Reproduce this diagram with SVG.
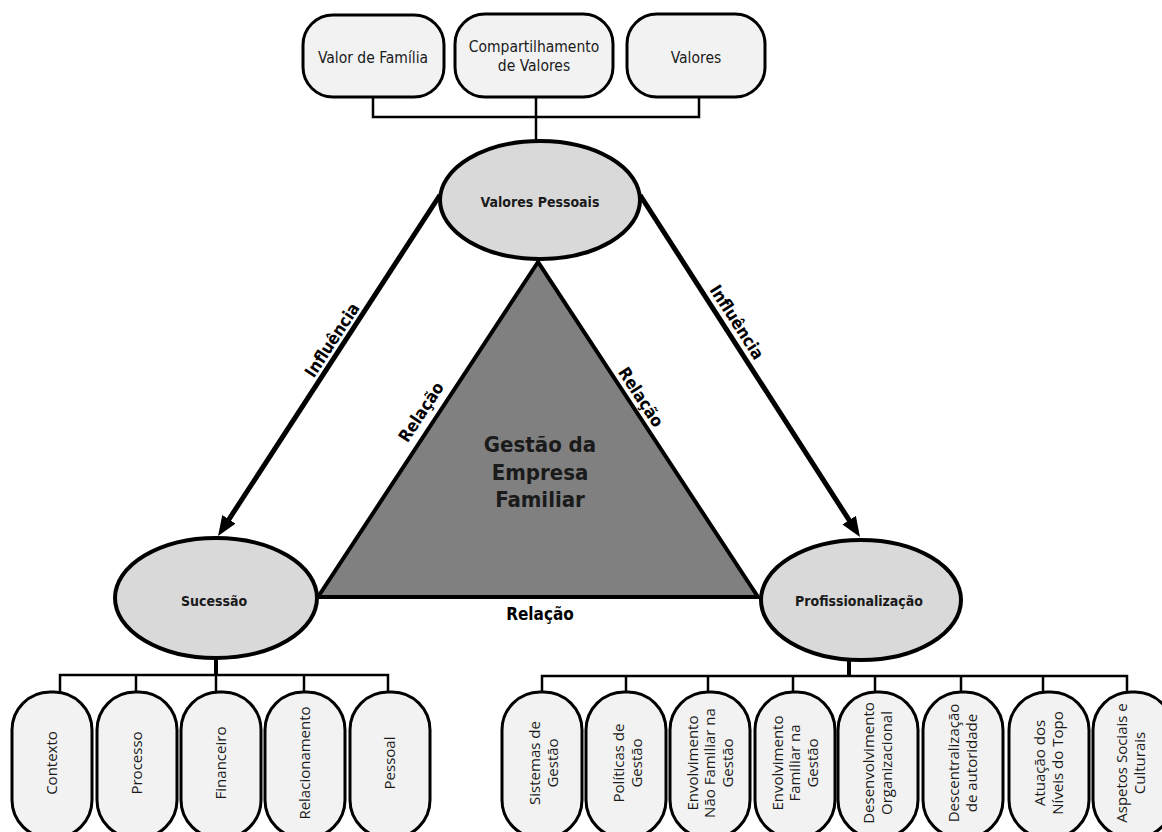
<svg xmlns="http://www.w3.org/2000/svg" width="1162" height="832" viewBox="0 0 1162 832">
  <style>
    .pill { fill: #f2f2f2; stroke: #000; stroke-width: 3; }
    .oval { fill: #d9d9d9; stroke: #000; stroke-width: 4; }
    .thin { fill: none; stroke: #000; stroke-width: 2.5; }
    .stem { fill: none; stroke: #000; stroke-width: 4; }
    .arrow { fill: none; stroke: #000; stroke-width: 5; }
    .top-txt { font-family: "DejaVu Sans Condensed", "DejaVu Sans", sans-serif; font-size: 15.5px; fill: #1a1a1a; text-anchor: middle; }
    .oval-txt { font-family: "DejaVu Sans Condensed", "DejaVu Sans", sans-serif; font-size: 14px; font-weight: bold; fill: #1a1a1a; text-anchor: middle; }
    .edge-txt { font-family: "DejaVu Sans Condensed", "DejaVu Sans", sans-serif; font-size: 17px; font-weight: bold; fill: #000; text-anchor: middle; }
    .core-txt { font-family: "DejaVu Sans Condensed", "DejaVu Sans", sans-serif; font-size: 22px; font-weight: bold; fill: #1a1a1a; text-anchor: middle; }
    .leaf-txt { font-family: "Open Sans", "Noto Sans", sans-serif; font-size: 15px; fill: #1a1a1a; text-anchor: middle; }
  </style>
  <defs>
    <marker id="head" markerUnits="userSpaceOnUse" markerWidth="22" markerHeight="18" refX="6" refY="8" orient="auto">
      <path d="M0,0 L20,8 L0,16 z" fill="#000"/>
    </marker>
  </defs>

  <!-- central triangle -->
  <g id="gestao">
    <polygon points="538,262 318,597 758,597" fill="#808080" stroke="#000" stroke-width="4" stroke-linejoin="miter"/>
    <text class="core-txt" x="540" y="452">Gestão da</text>
    <text class="core-txt" x="540" y="480">Empresa</text>
    <text class="core-txt" x="540" y="507">Familiar</text>
  </g>

  <!-- connectors -->
  <g id="connectors">
    <!-- top values tree -->
    <polyline class="thin" points="373,97 373,117 699,117 699,97"/>
    <line class="thin" x1="536" y1="97" x2="536" y2="141"/>
    <!-- influence arrows -->
    <line class="arrow" x1="440" y1="195" x2="225.7" y2="524.3" marker-end="url(#head)"/>
    <line class="arrow" x1="640" y1="195" x2="852.4" y2="525.2" marker-end="url(#head)"/>
    <!-- succession tree -->
    <line class="stem" x1="216" y1="657" x2="216" y2="676"/>
    <polyline class="thin" points="60,692 60,675 388,675 388,692"/>
    <line class="thin" x1="136" y1="675" x2="136" y2="692"/>
    <line class="thin" x1="216" y1="675" x2="216" y2="692"/>
    <line class="thin" x1="304" y1="675" x2="304" y2="692"/>
    <!-- professionalisation tree -->
    <line class="stem" x1="849" y1="659" x2="849" y2="677"/>
    <polyline class="thin" points="542,692 542,676 1127,676 1127,692"/>
    <line class="thin" x1="626" y1="676" x2="626" y2="692"/>
    <line class="thin" x1="708" y1="676" x2="708" y2="692"/>
    <line class="thin" x1="793" y1="676" x2="793" y2="692"/>
    <line class="thin" x1="875" y1="676" x2="875" y2="692"/>
    <line class="thin" x1="961" y1="676" x2="961" y2="692"/>
    <line class="thin" x1="1043" y1="676" x2="1043" y2="692"/>
    <!-- edge labels -->
    <text class="edge-txt" transform="translate(332,340) rotate(-56.8)" y="6">Influência</text>
    <text class="edge-txt" transform="translate(737,322) rotate(57.2)" y="6">Influência</text>
    <text class="edge-txt" transform="translate(421,412) rotate(-56.7)" y="6">Relação</text>
    <text class="edge-txt" transform="translate(641,397) rotate(56.7)" y="6">Relação</text>
    <text class="edge-txt" x="540" y="620">Relação</text>
  </g>

  <!-- top value boxes -->
  <g id="valor-familia">
    <rect class="pill" x="303" y="15" width="141" height="82" rx="30"/>
    <text class="top-txt" x="373" y="63">Valor de Família</text>
  </g>
  <g id="compartilhamento">
    <rect class="pill" x="455" y="14" width="158" height="83" rx="30"/>
    <text class="top-txt" x="534" y="52">Compartilhamento</text>
    <text class="top-txt" x="534" y="71">de Valores</text>
  </g>
  <g id="valores">
    <rect class="pill" x="627" y="14" width="138" height="83" rx="30"/>
    <text class="top-txt" x="696" y="63">Valores</text>
  </g>

  <!-- main ellipses -->
  <g id="valores-pessoais">
    <ellipse class="oval" cx="540" cy="200" rx="100" ry="59"/>
    <text class="oval-txt" x="540" y="207">Valores Pessoais</text>
  </g>
  <g id="sucessao">
    <ellipse class="oval" cx="216" cy="598" rx="101" ry="60"/>
    <text class="oval-txt" x="214" y="606">Sucessão</text>
  </g>
  <g id="profissionalizacao">
    <ellipse class="oval" cx="861" cy="600" rx="100" ry="60"/>
    <text class="oval-txt" x="859" y="606">Profissionalização</text>
  </g>

  <!-- succession leaves -->
  <g id="contexto">
    <rect class="pill" x="12" y="692" width="80" height="146" rx="38"/>
    <text class="leaf-txt" transform="translate(52,763) rotate(-90)" y="5">Contexto</text>
  </g>
  <g id="processo">
    <rect class="pill" x="97" y="692" width="80" height="146" rx="38"/>
    <text class="leaf-txt" transform="translate(137,763) rotate(-90)" y="5">Processo</text>
  </g>
  <g id="financeiro">
    <rect class="pill" x="181" y="692" width="80" height="146" rx="38"/>
    <text class="leaf-txt" transform="translate(221,763) rotate(-90)" y="5">Financeiro</text>
  </g>
  <g id="relacionamento">
    <rect class="pill" x="265" y="692" width="80" height="146" rx="38"/>
    <text class="leaf-txt" transform="translate(305,763) rotate(-90)" y="5">Relacionamento</text>
  </g>
  <g id="pessoal">
    <rect class="pill" x="350" y="692" width="80" height="146" rx="38"/>
    <text class="leaf-txt" transform="translate(390,763) rotate(-90)" y="5">Pessoal</text>
  </g>

  <!-- professionalisation leaves -->
  <g id="sistemas">
    <rect class="pill" x="502" y="692" width="80" height="146" rx="38"/>
    <text class="leaf-txt" transform="translate(544,763) rotate(-90)"><tspan x="0" y="-4">Sistemas de</tspan><tspan x="0" y="14">Gestão</tspan></text>
  </g>
  <g id="politicas">
    <rect class="pill" x="586" y="692" width="80" height="146" rx="38"/>
    <text class="leaf-txt" transform="translate(628,763) rotate(-90)"><tspan x="0" y="-4">Políticas de</tspan><tspan x="0" y="14">Gestão</tspan></text>
  </g>
  <g id="envolvimento-nao-familiar">
    <rect class="pill" x="670" y="692" width="80" height="146" rx="38"/>
    <text class="leaf-txt" transform="translate(710,763) rotate(-90)"><tspan x="0" y="-12.5">Envolvimento</tspan><tspan x="0" y="5">Não Familiar na</tspan><tspan x="0" y="22.5">Gestão</tspan></text>
  </g>
  <g id="envolvimento-familiar">
    <rect class="pill" x="755" y="692" width="80" height="146" rx="38"/>
    <text class="leaf-txt" transform="translate(795,763) rotate(-90)"><tspan x="0" y="-12.5">Envolvimento</tspan><tspan x="0" y="5">Familiar na</tspan><tspan x="0" y="22.5">Gestão</tspan></text>
  </g>
  <g id="desenvolvimento">
    <rect class="pill" x="838" y="692" width="80" height="146" rx="38"/>
    <text class="leaf-txt" transform="translate(878,763) rotate(-90)"><tspan x="0" y="-4">Desenvolvimento</tspan><tspan x="0" y="14">Organizacional</tspan></text>
  </g>
  <g id="descentralizacao">
    <rect class="pill" x="923" y="692" width="80" height="146" rx="38"/>
    <text class="leaf-txt" transform="translate(963,763) rotate(-90)"><tspan x="0" y="-4">Descentralização</tspan><tspan x="0" y="14">de autoridade</tspan></text>
  </g>
  <g id="atuacao">
    <rect class="pill" x="1009" y="692" width="80" height="146" rx="38"/>
    <text class="leaf-txt" transform="translate(1049,763) rotate(-90)"><tspan x="0" y="-4">Atuação dos</tspan><tspan x="0" y="14">Níveis do Topo</tspan></text>
  </g>
  <g id="aspetos">
    <rect class="pill" x="1093" y="692" width="80" height="146" rx="38"/>
    <text class="leaf-txt" transform="translate(1131,763) rotate(-90)"><tspan x="0" y="-4">Aspetos Sociais e</tspan><tspan x="0" y="14">Culturais</tspan></text>
  </g>
</svg>
